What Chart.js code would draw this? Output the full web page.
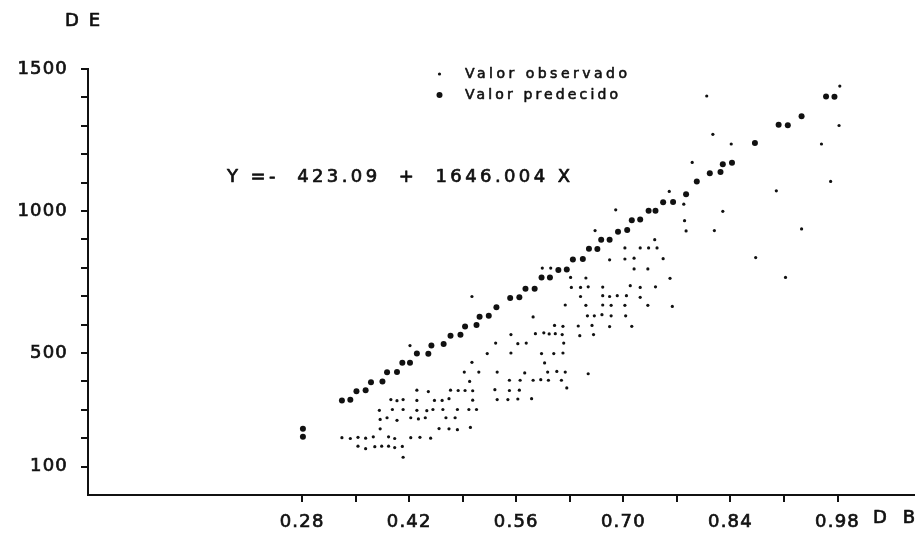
<!DOCTYPE html>
<html>
<head>
<meta charset="utf-8">
<script src="https://cdn.jsdelivr.net/npm/chart.js@4.4.1/dist/chart.umd.min.js"></script>
<style>
  html, body { margin: 0; padding: 0; background: #ffffff; }
  #wrap { width: 922px; height: 540px; }
</style>
</head>
<body>
<div id="wrap"><canvas id="c" width="922" height="540"></canvas></div>
<script>
// Observed DE values against DB
const obsX = [
  0.430, 0.445, 0.474, 0.484, 0.493, 0.503, 0.499, 0.396, 0.404, 0.412,
  0.430, 0.453, 0.463, 0.472, 0.503, 0.381, 0.398, 0.412, 0.430, 0.443,
  0.451, 0.464, 0.483, 0.498, 0.508, 0.382, 0.391, 0.404, 0.422, 0.432,
  0.441, 0.468, 0.480, 0.382, 0.459, 0.472, 0.483, 0.500, 0.332, 0.343,
  0.353, 0.363, 0.373, 0.393, 0.401, 0.422, 0.434, 0.448, 0.353, 0.363,
  0.375, 0.384, 0.393, 0.401, 0.411, 0.412, 0.421, 0.502, 0.492,
  0.502, 0.632, 0.644, 0.654, 0.673, 0.709, 0.722, 0.742, 0.644, 0.673,
  0.682, 0.692, 0.704, 0.722, 0.624, 0.651, 0.673, 0.684, 0.702, 0.732,
  0.764, 0.582, 0.653, 0.662, 0.672, 0.684, 0.703, 0.610, 0.621, 0.641,
  0.659, 0.682, 0.711, 0.553, 0.585, 0.596, 0.603, 0.611, 0.620, 0.643,
  0.661, 0.533, 0.562, 0.573, 0.622, 0.522, 0.553, 0.593, 0.609, 0.621,
  0.597, 0.511, 0.535, 0.571, 0.601, 0.613, 0.624, 0.654, 0.551, 0.565,
  0.582, 0.592, 0.602, 0.619, 0.532, 0.551, 0.564, 0.626, 0.535, 0.549,
  0.562, 0.580,
  0.760, 0.779, 0.690, 0.830, 0.780, 0.663, 0.782, 0.819, 0.741, 0.594,
  0.605, 0.702, 0.722, 0.733, 0.744, 0.682, 0.702, 0.714, 0.752, 0.714,
  0.732, 0.631, 0.651, 0.761, 0.983, 0.809, 0.817, 0.841, 0.959, 0.982,
  0.790, 0.900, 0.971, 0.933, 0.873, 0.912
];
const obsY = [
  369, 364, 369, 368, 368, 367, 400, 336, 332, 336,
  333, 333, 333, 339, 334, 298, 301, 301, 298, 297,
  301, 301, 301, 301, 301, 266, 272, 263, 272, 268,
  272, 272, 272, 233, 234, 233, 230, 238, 202, 199,
  203, 200, 205, 205, 199, 202, 203, 200, 172, 163,
  170, 172, 172, 167, 171, 133, 526, 467, 433,
  699, 731, 731, 733, 732, 737, 731, 733, 699, 702,
  699, 702, 702, 696, 669, 668, 669, 668, 668, 668,
  664, 627, 631, 631, 635, 631, 631, 597, 594, 595,
  597, 593, 594, 565, 568, 571, 567, 568, 565, 561,
  565, 535, 533, 535, 535, 498, 500, 498, 498, 500,
  465, 433, 433, 430, 433, 435, 433, 427, 404, 404,
  404, 406, 404, 404, 371, 368, 369, 377, 336, 336,
  338, 339,
  1069, 1024, 1004, 999, 966, 931, 930, 931, 899, 799,
  799, 870, 870, 870, 870, 828, 831, 834, 832, 796,
  796, 766, 764, 763, 1440, 1405, 1270, 1236, 1236, 1301,
  1171, 1071, 1104, 937, 836, 766
];

// Predicted DE values from the fitted regression
const predX = [
  0.281, 0.281, 0.332, 0.343, 0.351, 0.363, 0.370, 0.385, 0.391, 0.404,
  0.411, 0.421, 0.430, 0.445, 0.449, 0.465, 0.474, 0.487, 0.493, 0.508,
  0.512, 0.524, 0.534, 0.552, 0.564, 0.572, 0.584, 0.593, 0.604, 0.615,
  0.626, 0.634, 0.647, 0.655, 0.666, 0.671, 0.682, 0.693, 0.705, 0.711,
  0.722, 0.733, 0.742, 0.752, 0.765, 0.782, 0.796, 0.813, 0.827, 0.830,
  0.842, 0.872, 0.903, 0.915, 0.933, 0.965, 0.976
];
const predY = [
  233, 205, 333, 335, 365, 369, 397, 400, 432, 433,
  466, 466, 498, 497, 526, 532, 561, 564, 593, 599,
  628, 631, 661, 694, 696, 726, 726, 766, 766, 792,
  794, 829, 831, 867, 866, 899, 899, 927, 933, 967,
  970, 1001, 1001, 1031, 1032, 1059, 1104, 1133, 1137, 1165,
  1170, 1239, 1304, 1302, 1334, 1403, 1402
];

// Axis ticks and labels
const xTickValues = [0.28, 0.35, 0.42, 0.49, 0.56, 0.63, 0.70, 0.77, 0.84, 0.91, 0.98];
const xTickLabels = ['0.28', '', '0.42', '', '0.56', '', '0.70', '', '0.84', '', '0.98'];
const yTickValues = [100, 200, 300, 400, 500, 600, 700, 800, 900, 1000, 1100, 1200, 1300, 1400, 1500];
const yTickLabels = ['100', '', '', '', '500', '', '', '', '', '1000', '', '', '', '', '1500'];

const seriesNames = ['Valor observado', 'Valor predecido'];
const equationText = 'Y =-  423.09  +  1646.004 X';
const xTitle = 'DB';
const yTitle = 'DE';

const INK = '#111111';
const FONT = '"DejaVu Sans", "Liberation Sans", sans-serif';

function toPoints(xs, ys) {
  return xs.map((x, i) => ({ x: x, y: ys[i] }));
}

// Draw a string stretched with letter spacing to a given width, slightly emboldened
function drawSpaced(ctx, text, x, y, width, font, stroke) {
  ctx.font = font;
  ctx.letterSpacing = '0px';
  const w = ctx.measureText(text).width;
  const gap = Math.max(0, (width - w) / Math.max(1, text.length - 1));
  ctx.letterSpacing = gap.toFixed(2) + 'px';
  ctx.textAlign = 'left';
  ctx.textBaseline = 'middle';
  ctx.fillText(text, x, y);
  ctx.lineWidth = stroke;
  ctx.lineJoin = 'round';
  ctx.strokeText(text, x, y);
  ctx.letterSpacing = '0px';
}

const textPlugin = {
  id: 'chartText',
  beforeDraw(chart) {
    chart.ctx.letterSpacing = '1.2px';
  },
  afterDraw(chart) {
    const ctx = chart.ctx;
    ctx.save();
    ctx.fillStyle = INK;
    ctx.strokeStyle = INK;
    // axis titles
    drawSpaced(ctx, yTitle, 65, 21, 35, '18px ' + FONT, 0.7);
    drawSpaced(ctx, xTitle, 873, 518, 42, '18px ' + FONT, 0.7);
    // regression equation
    drawSpaced(ctx, equationText, 227, 177, 343, '18px ' + FONT, 0.7);
    // legend
    ctx.beginPath();
    ctx.arc(439.5, 74, 1.6, 0, Math.PI * 2);
    ctx.fill();
    ctx.beginPath();
    ctx.arc(439.5, 95, 3, 0, Math.PI * 2);
    ctx.fill();
    drawSpaced(ctx, seriesNames[0], 465, 74, 162, '14px ' + FONT, 0.6);
    drawSpaced(ctx, seriesNames[1], 465, 95, 153, '14px ' + FONT, 0.6);
    ctx.restore();
  }
};

new Chart(document.getElementById('c'), {
  type: 'scatter',
  data: {
    datasets: [
      {
        label: seriesNames[0],
        data: toPoints(obsX, obsY),
        pointRadius: 1.6,
        pointHoverRadius: 1.6,
        backgroundColor: INK,
        borderColor: INK,
        borderWidth: 0
      },
      {
        label: seriesNames[1],
        data: toPoints(predX, predY),
        pointRadius: 3,
        pointHoverRadius: 3,
        backgroundColor: INK,
        borderColor: INK,
        borderWidth: 0
      }
    ]
  },
  options: {
    responsive: false,
    animation: false,
    events: [],
    layout: { padding: { top: 69, right: 8, left: 0, bottom: 0 } },
    plugins: {
      legend: { display: false },
      tooltip: { enabled: false },
      title: { display: false }
    },
    scales: {
      x: {
        type: 'linear',
        min: 0,
        max: 1.08,
        afterBuildTicks(scale) {
          scale.ticks = xTickValues.map(v => ({ value: v }));
        },
        afterFit(scale) { scale.height = 45; },
        border: { display: true, color: INK, width: 2 },
        grid: {
          drawOnChartArea: false,
          drawTicks: true,
          tickLength: 7,
          color: INK,
          lineWidth: 2
        },
        ticks: {
          autoSkip: false,
          maxRotation: 0,
          padding: 10,
          color: INK,
          textStrokeColor: INK,
          textStrokeWidth: 0.7,
          font: { family: FONT, size: 18 },
          callback: (v, i) => xTickLabels[i]
        }
      },
      y: {
        type: 'linear',
        min: 0,
        max: 1500,
        afterBuildTicks(scale) {
          scale.ticks = yTickValues.map(v => ({ value: v }));
        },
        afterFit(scale) { scale.width = 88; },
        border: { display: true, color: INK, width: 2 },
        grid: {
          drawOnChartArea: false,
          drawTicks: true,
          tickLength: 7,
          color: INK,
          lineWidth: 2
        },
        ticks: {
          autoSkip: false,
          padding: 13,
          color: INK,
          textStrokeColor: INK,
          textStrokeWidth: 0.7,
          font: { family: FONT, size: 18 },
          callback: (v, i) => yTickLabels[i]
        }
      }
    }
  },
  plugins: [textPlugin]
});
</script>
</body>
</html>
